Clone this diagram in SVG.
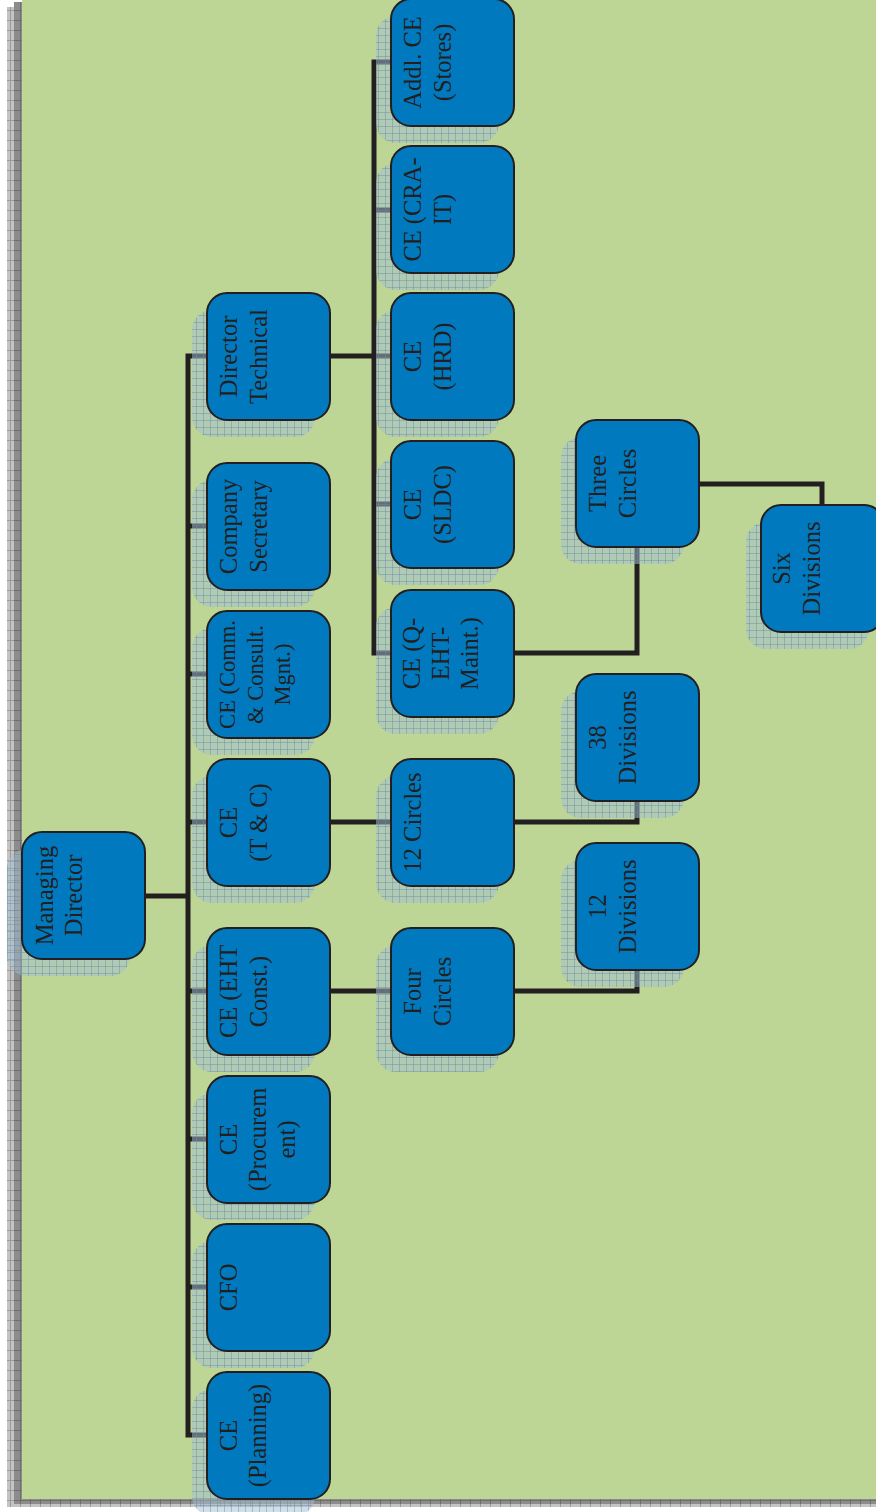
<svg xmlns="http://www.w3.org/2000/svg" width="876" height="1512" viewBox="0 0 876 1512">
<defs>
<pattern id="shgrid" width="7" height="7" patternUnits="userSpaceOnUse">
<rect width="7" height="7" fill="#A3BFD0" fill-opacity="0.5"/>
<path d="M0,0.5H7M0.5,0V7" stroke="#6F86A8" stroke-opacity="0.45" stroke-width="1" fill="none"/>
</pattern>
<pattern id="lgrid" width="10" height="10" patternUnits="userSpaceOnUse">
<rect width="10" height="10" fill="#C4C4C4"/>
<path d="M0,0.5H10M0.5,0V10" stroke="#9A9A9A" stroke-width="1" fill="none"/>
</pattern>
<pattern id="dgrid" width="10" height="10" patternUnits="userSpaceOnUse">
<rect width="10" height="10" fill="#8C8C8C"/>
<path d="M0,0.5H10M0.5,0V10" stroke="#6E6E6E" stroke-width="1" fill="none"/>
</pattern>
</defs>
<style>
.box{fill:#0079BF;stroke:#231F20;stroke-width:2}
.sh{fill:url(#shgrid)}
.lbl{font-family:"Liberation Serif","Times New Roman",serif;font-size:24.5px;fill:#231F20;text-anchor:middle}
.con{fill:none;stroke:#231F20;stroke-width:5;stroke-linejoin:miter}
</style>
<rect x="0" y="0" width="876" height="1512" fill="#FFFFFF"/>
<rect x="7" y="7" width="869" height="1500" fill="url(#lgrid)"/>
<rect x="14" y="2" width="862" height="1502" fill="url(#dgrid)"/>
<rect x="22" y="0" width="854" height="1499" fill="#BDD696"/>
<g id="connectors">
<path class="con" d="M145,896H188"/>
<path class="con" d="M207,356H188V1435H207"/>
<path class="con" d="M188,526H207M188,674H207M188,822H207M188,991H207M188,1139H207M188,1287H207"/>
<path class="con" d="M329,356H374"/>
<path class="con" d="M391,62H374V653H391"/>
<path class="con" d="M374,210H391M374,356H391M374,504H391"/>
<path class="con" d="M514,653H637V547"/>
<path class="con" d="M698,484H822V505"/>
<path class="con" d="M329,822H391"/>
<path class="con" d="M514,822H637V801"/>
<path class="con" d="M329,991H391"/>
<path class="con" d="M514,991H637V970"/>
</g>
<g id="shadows">
<rect class="sh" x="7" y="849" width="123" height="127" rx="20"/>
<rect class="sh" x="192" y="310" width="123" height="127" rx="20"/>
<rect class="sh" x="192" y="480" width="123" height="127" rx="20"/>
<rect class="sh" x="192" y="628" width="123" height="127" rx="20"/>
<rect class="sh" x="192" y="776" width="123" height="127" rx="20"/>
<rect class="sh" x="192" y="945" width="123" height="127" rx="20"/>
<rect class="sh" x="192" y="1093" width="123" height="127" rx="20"/>
<rect class="sh" x="192" y="1241" width="123" height="127" rx="20"/>
<rect class="sh" x="192" y="1389" width="123" height="127" rx="20"/>
<rect class="sh" x="376" y="16" width="123" height="127" rx="20"/>
<rect class="sh" x="376" y="163" width="123" height="127" rx="20"/>
<rect class="sh" x="376" y="310" width="123" height="127" rx="20"/>
<rect class="sh" x="376" y="458" width="123" height="127" rx="20"/>
<rect class="sh" x="376" y="607" width="123" height="127" rx="20"/>
<rect class="sh" x="376" y="776" width="123" height="127" rx="20"/>
<rect class="sh" x="376" y="945" width="123" height="127" rx="20"/>
<rect class="sh" x="561" y="437" width="123" height="127" rx="20"/>
<rect class="sh" x="561" y="691" width="123" height="127" rx="20"/>
<rect class="sh" x="561" y="860" width="123" height="127" rx="20"/>
<rect class="sh" x="746" y="522" width="123" height="127" rx="20"/>
</g>
<g id="md"><rect class="box" x="22" y="832" width="123" height="127" rx="20"/><text class="lbl" transform="translate(53,895.5) rotate(-90)"><tspan x="0" y="0">Managing</tspan><tspan x="0" y="29">Director</tspan></text></g>
<g id="dir-tech"><rect class="box" x="207" y="293" width="123" height="127" rx="20"/><text class="lbl" transform="translate(237,356.5) rotate(-90)"><tspan x="0" y="0">Director</tspan><tspan x="0" y="30">Technical</tspan></text></g>
<g id="comp-sec"><rect class="box" x="207" y="463" width="123" height="127" rx="20"/><text class="lbl" transform="translate(237,526.5) rotate(-90)"><tspan x="0" y="0">Company</tspan><tspan x="0" y="30">Secretary</tspan></text></g>
<g id="ce-comm"><rect class="box" x="207" y="611" width="123" height="127" rx="20"/><text class="lbl" style="font-size:22.5px" transform="translate(235,674.5) rotate(-90)"><tspan x="0" y="0">CE (Comm.</tspan><tspan x="0" y="27.5">&amp; Consult.</tspan><tspan x="0" y="55">Mgnt.)</tspan></text></g>
<g id="ce-tc"><rect class="box" x="207" y="759" width="123" height="127" rx="20"/><text class="lbl" transform="translate(237,822.5) rotate(-90)"><tspan x="0" y="0">CE</tspan><tspan x="0" y="30">(T &amp; C)</tspan></text></g>
<g id="ce-eht"><rect class="box" x="207" y="928" width="123" height="127" rx="20"/><text class="lbl" transform="translate(237,991.5) rotate(-90)"><tspan x="0" y="0">CE (EHT</tspan><tspan x="0" y="30">Const.)</tspan></text></g>
<g id="ce-proc"><rect class="box" x="207" y="1076" width="123" height="127" rx="20"/><text class="lbl" transform="translate(237,1139.5) rotate(-90)"><tspan x="0" y="0">CE</tspan><tspan x="0" y="29">(Procurem</tspan><tspan x="0" y="58">ent)</tspan></text></g>
<g id="cfo"><rect class="box" x="207" y="1224" width="123" height="127" rx="20"/><text class="lbl" transform="translate(237,1287.5) rotate(-90)"><tspan x="0" y="0">CFO</tspan></text></g>
<g id="ce-plan"><rect class="box" x="207" y="1372" width="123" height="127" rx="20"/><text class="lbl" transform="translate(237,1435.5) rotate(-90)"><tspan x="0" y="0">CE</tspan><tspan x="0" y="29">(Planning)</tspan></text></g>
<g id="addl-ce"><rect class="box" x="391" y="-1" width="123" height="127" rx="20"/><text class="lbl" transform="translate(421,62.5) rotate(-90)"><tspan x="0" y="0">Addl. CE</tspan><tspan x="0" y="30">(Stores)</tspan></text></g>
<g id="ce-cra"><rect class="box" x="391" y="146" width="123" height="127" rx="20"/><text class="lbl" transform="translate(421,209.5) rotate(-90)"><tspan x="0" y="0">CE (CRA-</tspan><tspan x="0" y="30">IT)</tspan></text></g>
<g id="ce-hrd"><rect class="box" x="391" y="293" width="123" height="127" rx="20"/><text class="lbl" transform="translate(421,356.5) rotate(-90)"><tspan x="0" y="0">CE</tspan><tspan x="0" y="30">(HRD)</tspan></text></g>
<g id="ce-sldc"><rect class="box" x="391" y="441" width="123" height="127" rx="20"/><text class="lbl" transform="translate(421,504.5) rotate(-90)"><tspan x="0" y="0">CE</tspan><tspan x="0" y="30">(SLDC)</tspan></text></g>
<g id="ce-qeht"><rect class="box" x="391" y="590" width="123" height="127" rx="20"/><text class="lbl" transform="translate(420,653.5) rotate(-90)"><tspan x="0" y="0">CE (Q-</tspan><tspan x="0" y="29">EHT-</tspan><tspan x="0" y="58">Maint.)</tspan></text></g>
<g id="c12"><rect class="box" x="391" y="759" width="123" height="127" rx="20"/><text class="lbl" transform="translate(421,822.5) rotate(-90)"><tspan x="0" y="0">12 Circles</tspan></text></g>
<g id="c4"><rect class="box" x="391" y="928" width="123" height="127" rx="20"/><text class="lbl" transform="translate(421,991.5) rotate(-90)"><tspan x="0" y="0">Four</tspan><tspan x="0" y="30">Circles</tspan></text></g>
<g id="c3"><rect class="box" x="576" y="420" width="123" height="127" rx="20"/><text class="lbl" transform="translate(606,483.5) rotate(-90)"><tspan x="0" y="0">Three</tspan><tspan x="0" y="30">Circles</tspan></text></g>
<g id="d38"><rect class="box" x="576" y="674" width="123" height="127" rx="20"/><text class="lbl" transform="translate(606,737.5) rotate(-90)"><tspan x="0" y="0">38</tspan><tspan x="0" y="30">Divisions</tspan></text></g>
<g id="d12"><rect class="box" x="576" y="843" width="123" height="127" rx="20"/><text class="lbl" transform="translate(606,906.5) rotate(-90)"><tspan x="0" y="0">12</tspan><tspan x="0" y="30">Divisions</tspan></text></g>
<g id="d6"><rect class="box" x="761" y="505" width="123" height="127" rx="20"/><text class="lbl" transform="translate(790,568.5) rotate(-90)"><tspan x="0" y="0">Six</tspan><tspan x="0" y="30">Divisions</tspan></text></g>
</svg>
